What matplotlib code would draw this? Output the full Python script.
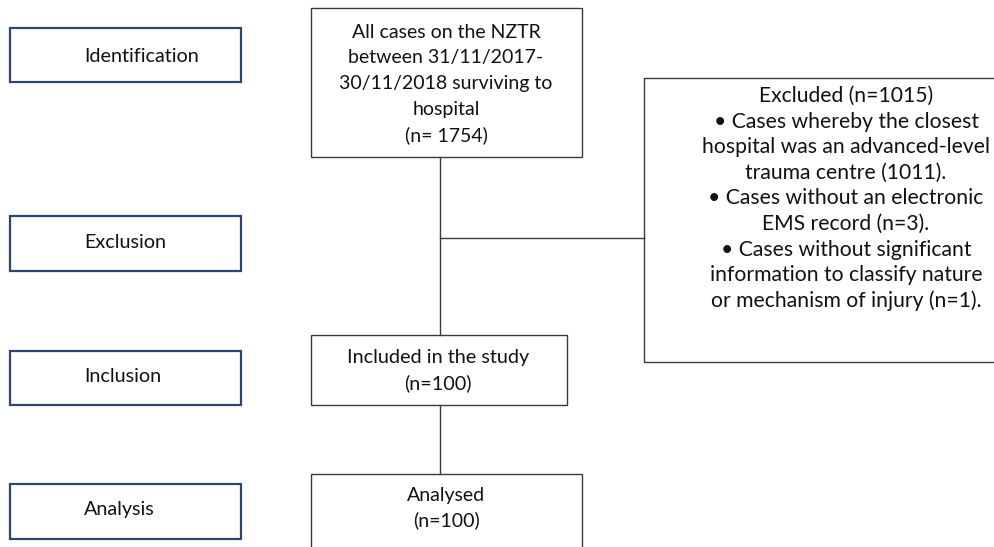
import matplotlib.pyplot as plt
from matplotlib.patches import Rectangle

plt.rcParams['font.family'] = ['Lato', 'DejaVu Sans']

# stage boxes on the left
stage_labels = ['Identification', 'Exclusion', 'Inclusion', 'Analysis']
stage_boxes = [(10, 28, 231, 54), (10, 216, 231, 55), (10, 351, 231, 54), (10, 484, 231, 55)]
stage_text_y = [57, 243, 376, 509]

# flow boxes: (x, y, w, h), text lines, text centre x, first line y
flow_boxes = [(311, 8, 271, 149), (644, 78, 360, 284), (311, 335, 256, 70), (311, 474, 271, 90)]
flow_texts = [
    ['All cases on the NZTR', 'between 31/11/2017-', '30/11/2018 surviving to', 'hospital', '(n= 1754)'],
    ['Excluded (n=1015)', '\u2022 Cases whereby the closest', 'hospital was an advanced-level',
     'trauma centre (1011).', '\u2022 Cases without an electronic', 'EMS record (n=3).',
     '\u2022 Cases without significant', 'information to classify nature',
     'or mechanism of injury (n=1).'],
    ['Included in the study', '(n=100)'],
    ['Analysed', '(n=100)'],
]
text_x = [446, 846, 438, 446]
text_y0 = [32, 96, 357, 495]
line_gap = [25.8, 25.6, 26, 25]
text_size = [14.0, 15.2, 14.3, 14]

# connector lines
connectors = [((440, 440), (157, 335)), ((440, 644), (238, 238)), ((440, 440), (405, 474))]

fig = plt.figure(figsize=(9.94, 5.47), dpi=100)
ax = fig.add_axes([0, 0, 1, 1])
ax.set_xlim(0, 994)
ax.set_ylim(547, 0)
ax.axis('off')

for (x, y, w, h), lab, ty in zip(stage_boxes, stage_labels, stage_text_y):
    ax.add_patch(Rectangle((x, y), w, h, fill=False, edgecolor='#2f4672', lw=1.6))
    ax.text(84, ty, lab, ha='left', va='center', fontsize=14.2, color='#111111')

for (x, y, w, h), lines, tx, ty, g, fs in zip(flow_boxes, flow_texts, text_x, text_y0, line_gap, text_size):
    ax.add_patch(Rectangle((x, y), w, h, fill=False, edgecolor='#3a3a3a', lw=1.0))
    for i, s in enumerate(lines):
        ax.text(tx, ty + i * g, s, ha='center', va='center', fontsize=fs, color='#111111')

for xs, ys in connectors:
    ax.plot(xs, ys, color='#3a3a3a', lw=1.0)

fig.savefig('out.png', dpi=100)
